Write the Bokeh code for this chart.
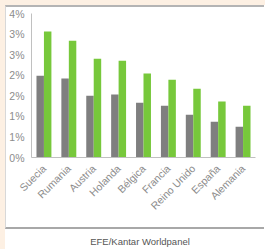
from bokeh.plotting import figure
from bokeh.models import FixedTicker, ColumnDataSource, Div
from bokeh.layouts import column
from bokeh.transform import dodge
from bokeh.embed import file_html
from bokeh.resources import INLINE
import math

countries = ["Suecia", "Rumania", "Austria", "Holanda", "Bélgica", "Francia", "Reino Unido", "España", "Alemania"]
serie_gris = [1.99, 1.92, 1.50, 1.53, 1.33, 1.26, 1.04, 0.87, 0.75]
serie_verde = [3.06, 2.84, 2.40, 2.35, 2.04, 1.89, 1.67, 1.36, 1.26]
y_ticks = [0, 0.5, 1.0, 1.5, 2.0, 2.5, 3.0, 3.5]
y_tick_labels = ["0%", "1%", "1%", "2%", "2%", "3%", "3%", "4%"]
caption = "EFE/Kantar Worldpanel"

src = ColumnDataSource(dict(c=countries, g=serie_gris, v=serie_verde))

p = figure(x_range=countries, y_range=(0, 3.5), width=259, height=224,
           output_backend="svg", toolbar_location=None,
           min_border_left=25, min_border_right=10, min_border_top=6, min_border_bottom=74)
p.styles = {"border-top": "2px solid #b4b4b4", "border-left": "1px solid #d8d8d8",
            "border-bottom": "2px solid #a8a8a8"}
p.x_range.range_padding = 0
p.background_fill_color = "white"
p.border_fill_color = "white"
p.outline_line_color = None
p.xgrid.grid_line_color = None
p.ygrid.grid_line_color = None

p.vbar(x=dodge("c", -0.15, range=p.x_range), top="g", width=0.3, source=src,
       fill_color="#7f7f7f", line_color=None)
p.vbar(x=dodge("c", 0.15, range=p.x_range), top="v", width=0.3, source=src,
       fill_color="#77c83b", line_color=None)

p.yaxis.ticker = FixedTicker(ticks=y_ticks)
p.yaxis.major_label_overrides = {t: l for t, l in zip(y_ticks, y_tick_labels)}
for ax in (p.xaxis, p.yaxis):
    ax.major_tick_line_color = None
    ax.minor_tick_line_color = None
    ax.major_tick_out = 0
    ax.major_tick_in = 0
    ax.minor_tick_out = 0
    ax.minor_tick_in = 0
    ax.axis_line_color = "#c0c0c0"
    ax.major_label_text_color = "#8c8c8c"
    ax.major_label_text_font = "Liberation Sans"
    ax.major_label_text_font_size = "10.5px"
p.yaxis.major_label_standoff = 7
p.xaxis.major_label_orientation = math.pi / 4
p.xaxis.major_label_standoff = 9

cap = Div(text=caption, width=260, height=16,
          styles={"text-align": "center", "font-family": "Liberation Sans", "font-size": "9.5px",
                  "color": "#555555", "width": "260px", "line-height": "16px"})
layout = column(p, cap, spacing=0,
                styles={"border-left": "5px solid #fdf0e3", "border-top": "5px solid #fdf0e3",
                        "background-color": "white"})

open("out.html", "w").write(file_html(layout, INLINE))
